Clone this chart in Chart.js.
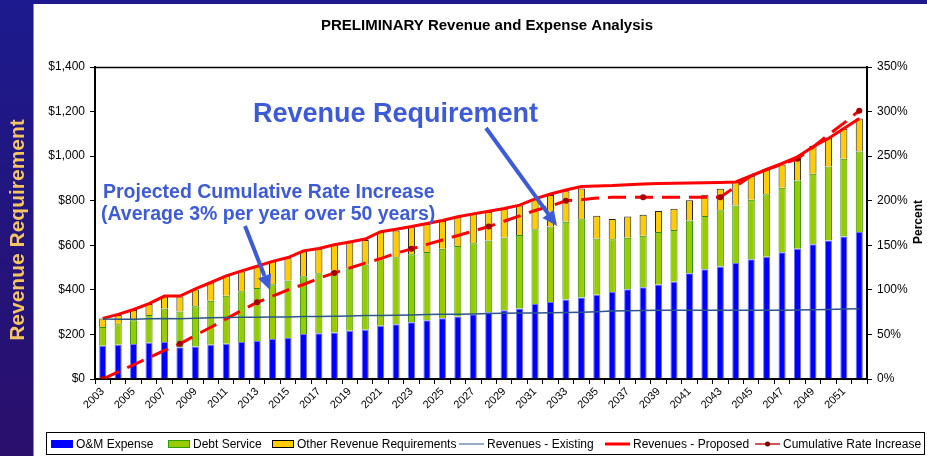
<!DOCTYPE html>
<html><head><meta charset="utf-8">
<script src="https://cdn.jsdelivr.net/npm/chart.js@4.4.1/dist/chart.umd.min.js"></script>
<style>html,body{margin:0;padding:0;background:#fff;overflow:hidden}canvas{display:block}</style>
</head><body>
<canvas id="c" width="927" height="456"></canvas>
<script>
const years = ['2003','2004','2005','2006','2007','2008','2009','2010','2011','2012','2013','2014','2015','2016','2017','2018','2019','2020','2021','2022','2023','2024','2025','2026','2027','2028','2029','2030','2031','2032','2033','2034','2035','2036','2037','2038','2039','2040','2041','2042','2043','2044','2045','2046','2047','2048','2049','2050','2051','2052'];
const omExpense = [149,154,157,163,166,143,146,154,158,166,170,179,184,202,205,209,216,221,239,246,255,264,273,281,290,299,308,316,336,345,357,366,378,390,403,412,424,436,475,493,505,521,537,549,569,584,605,621,639,660];
const debtService = [84,92,107,124,150,160,181,197,215,228,238,246,258,259,270,278,281,293,298,300,305,306,311,316,319,322,327,330,336,339,349,351,252,237,231,231,236,233,236,238,252,257,267,280,289,307,316,333,349,361];
const otherRevReq = [39,41,46,49,54,67,75,82,90,88,97,102,100,111,109,113,117,110,124,120,121,126,125,129,131,130,129,132,134,142,137,138,103,91,95,94,94,95,91,96,97,106,108,113,105,106,124,130,135,148];
const revExisting = [269,268,268,270,272,270,273,275,276,277,277,278,278,280,280,282,283,285,285,286,287,289,290,291,292,294,295,296,296,297,298,300,302,305,306,307,308,308,308,308,308,308,308,309,309,310,311,312,314,315];
const revProposed = [272,290,312,338,372,372,404,433,463,485,506,528,545,575,586,602,615,628,661,672,684,698,711,728,741,753,765,780,808,830,848,864,866,868,872,875,877,878,880,881,882,884,912,940,967,997,1042,1079,1124,1169];
const cumRate = [0,8,16,24,32,39.5,49,58,67.5,77,86,93,100,106,113,119,124.5,130,135,141,146,151,156,161,166,171,177,183,189,194,200,201,203,204,204,204,204,204,204,204,204,216,228,235,241,247,260,274,287,301];
const markerYears = ['2003','2008','2013','2018','2023','2028','2033','2038','2043','2048','2052'];
const yTicksDollar = [0,200,400,600,800,1000,1200,1400];

const FONT = '"Liberation Sans", Arial, Helvetica, sans-serif';
const ANN = '#3D5BD9';

function arrow(ctx, x1, y1, x2, y2, col) {
  const a = Math.atan2(y2 - y1, x2 - x1);
  const hl = 15, hw = 7;
  const bx = x2 - hl * Math.cos(a), by = y2 - hl * Math.sin(a);
  ctx.strokeStyle = col; ctx.fillStyle = col; ctx.lineWidth = 4; ctx.lineCap = 'butt';
  ctx.beginPath(); ctx.moveTo(x1, y1); ctx.lineTo(bx, by); ctx.stroke();
  ctx.beginPath(); ctx.moveTo(x2, y2);
  ctx.lineTo(bx + hw * Math.sin(a), by - hw * Math.cos(a));
  ctx.lineTo(bx - hw * Math.sin(a), by + hw * Math.cos(a));
  ctx.closePath(); ctx.fill();
}

const decor = {
  id: 'decor',
  beforeDraw(chart) {
    const ctx = chart.ctx, W = chart.width, H = chart.height;
    ctx.save();
    ctx.fillStyle = '#fff'; ctx.fillRect(0, 0, W, H);
    const g = ctx.createLinearGradient(0, 0, 0, H);
    g.addColorStop(0, '#1c1a8e'); g.addColorStop(1, '#2a0f6c');
    ctx.fillStyle = g; ctx.fillRect(0, 0, 34, H); ctx.fillRect(0, 0, W, 4);
    ctx.fillStyle = '#8a8aa0'; ctx.fillRect(33, 4, 1, H);
    ctx.translate(17, 230); ctx.rotate(-Math.PI / 2);
    ctx.fillStyle = '#F4C561'; ctx.font = 'bold 21px ' + FONT;
    ctx.textAlign = 'center'; ctx.textBaseline = 'middle';
    ctx.fillText('Revenue Requirement', 0, 1);
    ctx.restore();
  },
  afterDraw(chart) {
    const ctx = chart.ctx, ca = chart.chartArea;
    ctx.save();
    // plot top border
    ctx.strokeStyle = '#000'; ctx.lineWidth = 1.5;
    ctx.beginPath(); ctx.moveTo(ca.left, ca.top + 0.5); ctx.lineTo(ca.right, ca.top + 0.5); ctx.stroke();
    // title
    ctx.fillStyle = '#000'; ctx.font = 'bold 15px ' + FONT;
    ctx.textAlign = 'center'; ctx.textBaseline = 'middle';
    ctx.fillText('PRELIMINARY Revenue and Expense Analysis', 487, 26);
    // right axis title
    ctx.save(); ctx.translate(919, 222); ctx.rotate(-Math.PI / 2);
    ctx.font = 'bold 12px ' + FONT; ctx.fillText('Percent', 0, 0); ctx.restore();
    // annotations
    ctx.fillStyle = ANN; ctx.textAlign = 'left'; ctx.textBaseline = 'alphabetic';
    ctx.font = 'bold 27px ' + FONT;
    ctx.fillText('Revenue Requirement', 253, 122);
    ctx.font = 'bold 19.5px ' + FONT;
    ctx.fillText('Projected Cumulative Rate Increase', 103, 198);
    ctx.fillText('(Average 3% per year over 50 years)', 101, 220);
    arrow(ctx, 245, 226, 270, 290, ANN);
    arrow(ctx, 486, 128, 557, 226, ANN);
    // legend
    ctx.strokeStyle = '#000'; ctx.lineWidth = 1;
    ctx.strokeRect(46.5, 432.5, 878, 22);
    const ly = 444;
    ctx.font = '12px ' + FONT; ctx.fillStyle = '#000'; ctx.textBaseline = 'middle';
    const items = [
      {t: 'O&M Expense', x: 76, kind: 'box', fill: '#0000FF', stroke: '#0000FF'},
      {t: 'Debt Service', x: 193, kind: 'box', fill: '#99CC00', stroke: '#339900'},
      {t: 'Other Revenue Requirements', x: 297, kind: 'box', fill: '#FFCC00', stroke: '#000'},
      {t: 'Revenues - Existing', x: 487, kind: 'line', col: '#7090b8', w: 1.5},
      {t: 'Revenues - Proposed', x: 633, kind: 'line', col: '#FF0000', w: 3},
      {t: 'Cumulative Rate Increase', x: 783, kind: 'marker', col: '#C02020', w: 1.5}
    ];
    items.forEach(it => {
      if (it.kind === 'box') {
        ctx.fillStyle = it.fill; ctx.fillRect(it.x - 25, ly - 4, 22, 8);
        ctx.strokeStyle = it.stroke; ctx.lineWidth = 1; ctx.strokeRect(it.x - 24.5, ly - 3.5, 21, 7);
      } else {
        ctx.strokeStyle = it.col; ctx.lineWidth = it.w;
        ctx.beginPath(); ctx.moveTo(it.x - 28, ly); ctx.lineTo(it.x - 3, ly); ctx.stroke();
        if (it.kind === 'marker') {
          ctx.fillStyle = '#800000'; ctx.beginPath(); ctx.arc(it.x - 15.5, ly, 2.5, 0, Math.PI * 2); ctx.fill();
        }
      }
      ctx.fillStyle = '#000'; ctx.fillText(it.t, it.x, ly + 0.5);
    });
    ctx.restore();
  }
};

const tickFont = {family: FONT, size: 12};
new Chart(document.getElementById('c'), {
  type: 'bar',
  data: {
    labels: years,
    datasets: [
      {type: 'line', label: 'Revenues - Existing', data: revExisting, yAxisID: 'y', stack: 'ex', order: 0,
       borderColor: '#2b5687', borderWidth: 1.5, pointRadius: 0, tension: 0},
      {type: 'line', label: 'Revenues - Proposed', data: revProposed, yAxisID: 'y', stack: 'pr', order: 0,
       borderColor: '#FF0000', borderWidth: 3, pointRadius: 0, tension: 0},
      {type: 'line', label: 'Cumulative Rate Increase', data: cumRate, yAxisID: 'y1', order: 0,
       borderColor: '#FF0000', borderWidth: 3, borderDash: [18, 9], tension: 0,
       pointRadius: years.map(y => markerYears.includes(y) ? 3 : 0),
       pointBackgroundColor: '#A00000', pointBorderColor: '#A00000', pointBorderWidth: 0},
      {label: 'O&M Expense', data: omExpense, stack: 'bars', order: 1, backgroundColor: '#0000FF',
       borderColor: '#7070ff', borderWidth: 1, barPercentage: 0.46, categoryPercentage: 1},
      {label: 'Debt Service', data: debtService, stack: 'bars', order: 1, backgroundColor: '#99CC00',
       borderColor: '#2f8f00', borderWidth: 1, barPercentage: 0.46, categoryPercentage: 1},
      {label: 'Other Revenue Requirements', data: otherRevReq, stack: 'bars', order: 1, backgroundColor: '#FFCC00',
       borderColor: '#222', borderWidth: 1, barPercentage: 0.46, categoryPercentage: 1}
    ]
  },
  options: {
    responsive: false, animation: false, devicePixelRatio: 1,
    layout: {padding: {left: 34, top: 67, right: 0, bottom: 0}},
    plugins: {legend: {display: false}, title: {display: false}, tooltip: {enabled: false}},
    scales: {
      x: {
        stacked: true, offset: true,
        grid: {offset: true, drawOnChartArea: false, color: '#000', tickLength: 5},
        border: {color: '#000', width: 2},
        ticks: {autoSkip: false, minRotation: 45, maxRotation: 45, color: '#000', padding: 1,
          font: {family: FONT, size: 11}, callback: (v, i) => (i % 2 === 0 ? years[i] : '')},
        afterFit: s => { s.height = 77; }
      },
      y: {
        stacked: true, min: 0, max: 1400,
        afterBuildTicks: s => { s.ticks = yTicksDollar.map(v => ({value: v})); },
        ticks: {color: '#000', padding: 5, font: tickFont, callback: v => '$' + v.toLocaleString('en-US')},
        grid: {drawOnChartArea: false, color: '#000', tickLength: 5},
        border: {color: '#000', width: 2},
        afterFit: s => { s.width = 61; }
      },
      y1: {
        position: 'right', min: 0, max: 350,
        ticks: {stepSize: 50, color: '#000', padding: 5, font: tickFont, callback: v => v + '%'},
        grid: {drawOnChartArea: false, color: '#000', tickLength: 5},
        border: {color: '#000', width: 2},
        afterFit: s => { s.width = 60; }
      }
    }
  },
  plugins: [decor]
});
</script>
</body></html>
